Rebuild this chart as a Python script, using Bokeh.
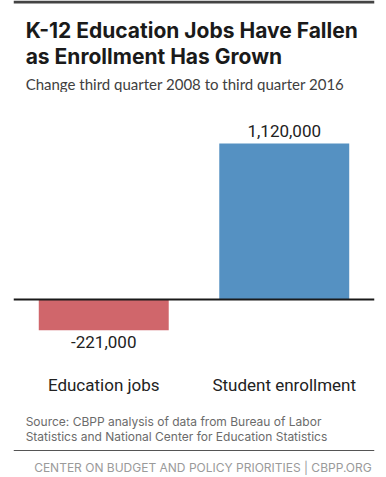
from bokeh.plotting import figure
from bokeh.models import ColumnDataSource, Span, Label, Range1d, FactorRange
from bokeh.layouts import column
from bokeh.embed import file_html
from bokeh.resources import INLINE
from bokeh.core.properties import value

# ---- data ----
categories = ["Education jobs", "Student enrollment"]
changes = [-221000, 1120000]

title_lines = ["K-12 Education Jobs Have Fallen", "as Enrollment Has Grown"]
subtitle = "Change third quarter 2008 to third quarter 2016"
source_lines = ["Source: CBPP analysis of data from Bureau of Labor",
                "Statistics and National Center for Education Statistics"]
footer = "CENTER ON BUDGET AND POLICY PRIORITIES | CBPP.ORG"

# ---- styles ----
bar_colors = ["#D0666B", "#5591C2"]
label_font = "Roboto"
head_font = "Inter"
sub_font = "Lato"
W = 386


def blank(height, top, bottom):
    f = figure(width=W, height=height, output_backend="svg", toolbar_location=None,
               x_range=Range1d(0, W), y_range=Range1d(bottom, top), min_border=0)
    f.outline_line_color = None
    f.grid.visible = False
    f.axis.visible = False
    return f


# ---- header ----
h = blank(92, 0, 92)
h.hbar(y=1.5, height=3, left=0, right=W, color="#444444", line_color=None)
for t, yb in zip(title_lines, [30, 56]):
    h.add_layout(Label(x=13, y=yb, text=t, text_font=head_font, text_font_style="bold",
                       text_font_size="21px", text_color="#1a1a1a",
                       text_baseline="alphabetic"))
h.add_layout(Label(x=13, y=83, text=subtitle, text_font=sub_font, text_font_size="15px",
                   text_color="#404040", text_baseline="alphabetic"))

# ---- chart ----
src = ColumnDataSource(dict(
    cat=categories,
    val=changes,
    lab=[f"{v:,}" for v in changes],
    color=bar_colors,
    base=["top" if v < 0 else "bottom" for v in changes],
    yoff=[6 if v < 0 else -7 for v in changes],
))

p = figure(width=W, height=308, output_backend="svg", toolbar_location=None,
           x_range=FactorRange(*categories),
           y_range=Range1d(-473846, 1428718),
           min_border_left=13, min_border_right=12, min_border_top=8,
           min_border_bottom=35)
p.outline_line_color = None
p.grid.visible = False
p.yaxis.visible = False
p.xaxis.axis_line_color = None
p.xaxis.major_tick_line_color = None
p.xaxis.minor_tick_line_color = None
p.xaxis.major_tick_out = 0
p.xaxis.major_label_standoff = 9
p.xaxis.major_label_text_font = label_font
p.xaxis.major_label_text_font_size = "17px"
p.xaxis.major_label_text_color = "#222222"

p.vbar(x="cat", top="val", width=0.72, color="color", line_color=None, source=src)
p.add_layout(Span(location=0, dimension="width", line_color="#1a1a1a", line_width=2))
p.text(x="cat", y="val", text="lab", text_align="center", text_baseline="base",
       y_offset="yoff", text_font=value(label_font), text_font_size="17px",
       text_color="#222222", source=src)

# ---- source + footer ----
b = blank(77, 400, 477)
for t, yb in zip(source_lines, [421, 436]):
    b.add_layout(Label(x=13, y=yb, text=t, text_font=head_font, text_font_size="12px",
                       text_color="#6b6b6b", text_baseline="alphabetic"))
b.add_layout(Span(location=450, dimension="width", line_color="#555555", line_width=1))
b.add_layout(Label(x=383, y=467, text=footer, text_font=head_font, text_font_size="12px",
                   text_color="#9a9a9a", text_align="right", text_baseline="alphabetic"))

layout = column(h, p, b, spacing=0)
open("out.html", "w").write(file_html(layout, INLINE))
